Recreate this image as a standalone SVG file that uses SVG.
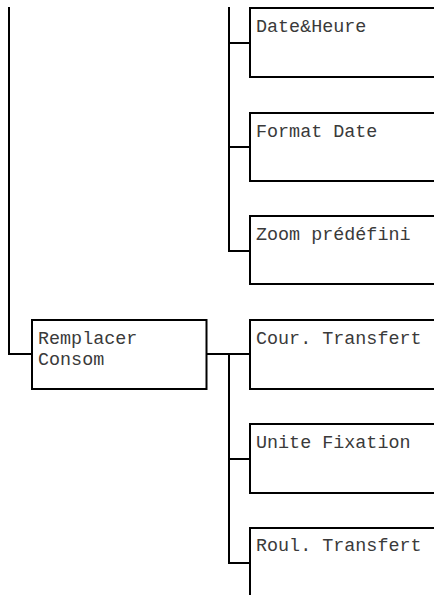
<svg xmlns="http://www.w3.org/2000/svg" width="434" height="595" viewBox="0 0 434 595">
<style>
.box{fill:#fff;stroke:#000;stroke-width:2}
.ln{fill:none;stroke:#000;stroke-width:2}
.t{font-family:"Liberation Mono","Courier New",monospace;font-size:18.4px;fill:#3a3a3a}
</style>
<rect width="434" height="595" fill="#fff"/>
<g id="connectors">
<path class="ln" d="M9,7 V354 H32"/>
<path class="ln" d="M229,7 V251 H250 M229,43 H250 M229,147 H250"/>
<path class="ln" d="M206.5,354 H250 M229,353 V563 H250 M229,459 H250"/>
</g>
<g id="date-heure"><rect class="box" x="250" y="8" width="200" height="69"/><text class="t" x="256" y="31.5">Date&amp;Heure</text></g>
<g id="format-date"><rect class="box" x="250" y="113" width="200" height="68"/><text class="t" x="256" y="136.5">Format Date</text></g>
<g id="zoom-predefini"><rect class="box" x="250" y="216" width="200" height="68"/><text class="t" x="256" y="239.5">Zoom prédéfini</text></g>
<g id="remplacer-consom"><rect class="box" x="32" y="320" width="174.5" height="69"/><text class="t" x="38" y="344">Remplacer</text><text class="t" x="38" y="364.5">Consom</text></g>
<g id="cour-transfert"><rect class="box" x="250" y="320" width="200" height="69"/><text class="t" x="256" y="343.5">Cour. Transfert</text></g>
<g id="unite-fixation"><rect class="box" x="250" y="424" width="200" height="69"/><text class="t" x="256" y="447.5">Unite Fixation</text></g>
<g id="roul-transfert"><rect class="box" x="250" y="528" width="200" height="100"/><text class="t" x="256" y="551">Roul. Transfert</text></g>
</svg>
